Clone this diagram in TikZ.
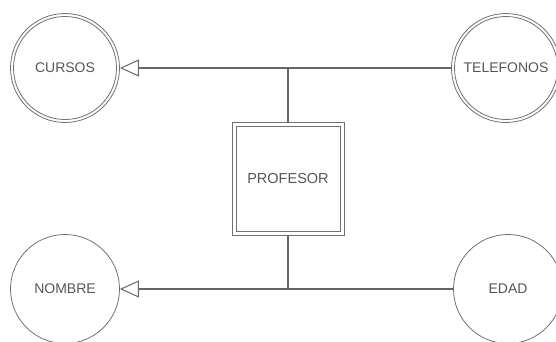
\documentclass[tikz,border=0pt]{standalone}
\usepackage{fontspec}
\setmainfont{Liberation Sans}
\usetikzlibrary{arrows.meta}
\definecolor{linegray}{HTML}{666666}
\definecolor{shapegray}{HTML}{707070}
\definecolor{textgray}{HTML}{555555}
\tikzset{
  attr/.style={circle, draw=shapegray, line width=0.8pt, minimum size=109pt, inner sep=0pt,
    text=textgray, font=\fontsize{14}{16}\selectfont},
  inner ring/.style={draw=shapegray, line width=0.8pt},
  entity/.style={rectangle, draw=shapegray, line width=0.9pt,
    minimum width=112pt, minimum height=113pt, inner sep=0pt,
    text=textgray, font=\fontsize{14.5}{16}\selectfont},
  conn/.style={draw=linegray, line width=1.3pt},
  openarrow/.style={conn, -{Triangle[open, length=19pt, width=17pt, line width=1pt]}}
}
\begin{document}
\begin{tikzpicture}[x=1pt,y=-1pt]
\useasboundingbox (0,0) rectangle (556,341);
\node[attr] (cursos) at (65,68) {CURSOS};
\node[attr] (telefonos) at (506,68) {TELEFONOS};
\node[attr] (nombre) at (65,289) {NOMBRE};
\node[attr] (edad) at (508,289) {EDAD};
\node[entity] (profesor) at (288,178.5) {PROFESOR};
\draw[inner ring] (cursos.center) circle[radius=51.5pt];
\draw[inner ring] (telefonos.center) circle[radius=51.5pt];
\draw[inner ring] ([shift={(4.5pt,-4.5pt)}]profesor.north west) rectangle ([shift={(-4.5pt,4.5pt)}]profesor.south east);
\coordinate (jt) at (288,68);
\coordinate (jb) at (288,289);
\draw[conn] (profesor.north) -- (jt);
\draw[conn] (profesor.south) -- (jb);
\draw[conn] (jt) -- (telefonos.west);
\draw[conn] (jb) -- (edad.west);
\draw[openarrow] (jt) -- (cursos.east);
\draw[openarrow] (jb) -- (nombre.east);
\end{tikzpicture}
\end{document}
